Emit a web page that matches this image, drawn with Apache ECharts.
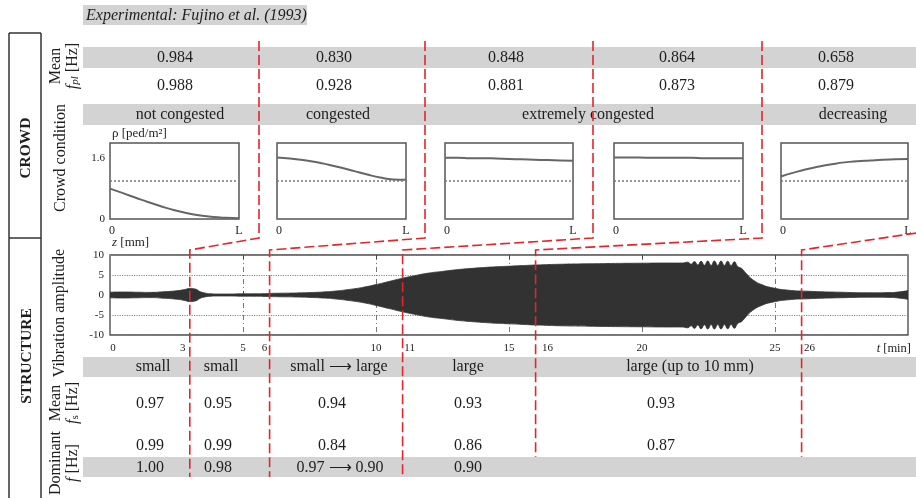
<!DOCTYPE html>
<html><head><meta charset="utf-8">
<script src="https://cdn.jsdelivr.net/npm/echarts@6/dist/echarts.min.js"></script>
<style>html,body{margin:0;padding:0;background:#fff}#c{width:916px;height:498px}</style>
</head><body><div id="c"></div>
<script>
// ---------------- DATA ----------------
const titleText = 'Experimental: Fujino et al. (1993)';
// CROWD
const crowdMeanRow1 = ['0.984', '0.830', '0.848', '0.864', '0.658'];
const crowdMeanRow2 = ['0.988', '0.928', '0.881', '0.873', '0.879'];
const crowdConditions = ['not congested', 'congested', 'extremely congested', 'decreasing'];
const densityZ = [0, 0.1, 0.2, 0.3, 0.4, 0.5, 0.6, 0.7, 0.8, 0.9, 1.0];
const density1 = [0.80, 0.68, 0.56, 0.44, 0.33, 0.23, 0.15, 0.09, 0.05, 0.03, 0.02];
const density2 = [1.62, 1.59, 1.55, 1.50, 1.43, 1.35, 1.26, 1.17, 1.09, 1.04, 1.03];
const density3 = [1.61, 1.61, 1.60, 1.60, 1.59, 1.58, 1.57, 1.56, 1.55, 1.54, 1.53];
const density4 = [1.62, 1.62, 1.62, 1.61, 1.61, 1.61, 1.61, 1.60, 1.60, 1.60, 1.60];
const density5 = [1.12, 1.22, 1.31, 1.38, 1.44, 1.49, 1.52, 1.54, 1.56, 1.57, 1.58];
const densityRef = 1.0;
const densityTickLabels = ['0', '1.6'];
// STRUCTURE
const sigTime = [0,0.5,1,1.5,2,2.5,2.8,3.0,3.2,3.4, 3.6,3.8,4.0,4.5,5.0,5.5,6.0,6.5,7.0,7.5,
  8.0,8.5,9.0,9.5,10.0,10.5,11.0,11.5,12.0,12.5, 13.0,13.5,14.0,14.5,15.0,15.5,16.0,17.0,18.0,19.0,
  20.0,21.0,21.5,21.72,21.85,21.97,22.1,22.22,22.35,22.47, 22.6,22.72,22.85,22.97,23.1,23.22,23.35,23.47,23.6,23.75,
  23.9,24.15,24.5,24.9,25.5,26.2,27.4,28.7,29.3,29.7, 30];
const sigAmp = [0.7,0.75,0.7,0.65,0.8,1.05,1.35,1.65,1.5,0.8, 0.45,0.3,0.25,0.25,0.3,0.3,0.4,0.45,0.5,0.6,
  0.75,1.0,1.4,1.9,2.6,3.4,4.2,4.9,5.5,5.9, 6.3,6.6,6.85,7.05,7.2,7.35,7.5,7.7,7.8,7.9,
  7.95,8.0,8.0,8.2,7.7,8.35,7.5,8.45,7.45,8.5, 7.4,8.5,7.4,8.5,7.4,8.45,7.35,8.3,7.1,6.6,
  5.5,3.9,2.6,1.8,1.2,0.95,0.7,0.55,0.6,0.8, 1.1];
const timeTickLabels = [0, 3, 5, 6, 10, 11, 15, 16, 20, 25, 26];
const gridTimes = [5, 10, 15, 20, 25];
const segmentTimes = [3, 6, 11, 16, 26];
const amplitudeLabels = ['small', 'small', 'small \u27F6 large', 'large', 'large (up to 10 mm)'];
const meanFs = ['0.97', '0.95', '0.94', '0.93', '0.93'];
const dominantRow1 = ['0.99', '0.99', '0.84', '0.86', '0.87'];
const dominantRow2 = ['1.00', '0.98', '0.97 \u27F6 0.90', '0.90'];

// ---------------- LAYOUT / STYLE ----------------
const SERIF = '"Liberation Serif","Times New Roman",serif';
const GRAY = '#d2d3d2', INK = '#1e1e1e', RED = '#e4262c', SIG = '#323232';
const miniLefts = [110, 277, 445, 614, 781];
const miniWidths = [129, 129, 128, 129, 127];
const densities = [density1, density2, density3, density4, density5];
const crowdRowX = [175, 334, 506, 677, 836];
const crowdCondX = [180, 338, 588, 853];
const ampLabelX = [153, 221, 339, 468, 690];
const structX = [150, 218, 332, 468, 661];
const dom2X = [150, 218, 340, 468];
const crowdBounds = [259, 425, 593, 762];
const labelShift = {0: 3, 3: -7, 6: -5, 11: 7, 16: 12, 26: 8};

const chart = echarts.init(document.getElementById('c'));

const grids = [], xAxes = [], yAxes = [], series = [];
miniLefts.forEach((l, i) => {
  grids.push({left: l, top: 143, width: miniWidths[i], height: 76, show: true,
    borderColor: '#555', borderWidth: 1.5, containLabel: false});
  xAxes.push({type: 'value', gridIndex: i, min: 0, max: 1, interval: 1,
    axisLine: {show: false}, axisTick: {show: false}, splitLine: {show: false},
    axisLabel: {formatter: v => v === 0 ? '{z|0}' : 'L', fontFamily: SERIF, fontSize: 12, color: INK, margin: 6,
      rich: {z: {fontFamily: SERIF, fontSize: 12, color: INK, padding: [0, 0, 0, 4]}}}});
  yAxes.push({type: 'value', gridIndex: i, min: 0, max: 2, interval: 0.4,
    axisLine: {show: false}, axisTick: {show: false}, splitLine: {show: false},
    axisLabel: {show: i === 0, fontFamily: SERIF, fontSize: 11, color: INK, margin: 5,
      formatter: v => densityTickLabels.find(s => Math.abs(parseFloat(s) - v) < 1e-6) || ''}});
  series.push({type: 'line', xAxisIndex: i, yAxisIndex: i, symbol: 'none', smooth: true,
    data: densityZ.map((z, k) => [z, densities[i][k]]),
    lineStyle: {color: '#666', width: 2},
    markLine: {silent: true, symbol: 'none', label: {show: false},
      lineStyle: {color: '#777', type: [2, 2], width: 1.5}, data: [{yAxis: densityRef}]}});
});
// main vibration grid
grids.push({left: 110, top: 255, width: 798, height: 80, show: true, borderColor: '#444', borderWidth: 1.3});
const rich = {};
Object.keys(labelShift).forEach(k => {
  const s = labelShift[k];
  rich['s' + k] = {fontFamily: SERIF, fontSize: 11, color: INK,
    padding: s > 0 ? [0, 0, 0, 2 * s] : [0, -2 * s, 0, 0]};
});
xAxes.push({type: 'value', gridIndex: 5, min: 0, max: 30, interval: 5,
  axisLine: {show: false},
  axisTick: {show: true, inside: true, length: 4, customValues: gridTimes, lineStyle: {color: '#444'}},
  splitLine: {show: true, lineStyle: {color: '#777', type: [5, 3, 1, 3], width: 1}},
  axisLabel: {customValues: timeTickLabels, fontFamily: SERIF, fontSize: 11, color: INK, margin: 8, rich: rich,
    formatter: v => labelShift[v] !== undefined ? '{s' + v + '|' + v + '}' : String(v)}});
xAxes.push({type: 'value', gridIndex: 5, position: 'top', min: 0, max: 30, interval: 5,
  axisLine: {show: false}, axisLabel: {show: false}, splitLine: {show: false},
  axisTick: {show: true, inside: true, length: 4, customValues: gridTimes, lineStyle: {color: '#444'}}});
yAxes.push({type: 'value', gridIndex: 5, min: -10, max: 10, interval: 5,
  axisLine: {show: false}, axisTick: {show: false},
  splitLine: {show: true, lineStyle: {color: '#888', type: 'dotted', width: 1.2}},
  axisLabel: {fontFamily: SERIF, fontSize: 11, color: INK, margin: 6}});
series.push({type: 'line', xAxisIndex: 5, yAxisIndex: 5, symbol: 'none', smooth: 0.55,
  data: sigTime.map((t, k) => [t, sigAmp[k]]),
  lineStyle: {color: SIG, width: 0.8}, areaStyle: {color: SIG, opacity: 1}});
series.push({type: 'line', xAxisIndex: 5, yAxisIndex: 5, symbol: 'none', smooth: 0.55,
  data: sigTime.map((t, k) => [t, -sigAmp[k]]),
  lineStyle: {color: SIG, width: 0.8}, areaStyle: {color: SIG, opacity: 1}});

chart.setOption({animation: false, textStyle: {fontFamily: SERIF},
  grid: grids, xAxis: xAxes, yAxis: yAxes, series: series});

// ---------------- GRAPHICS ----------------
const g = [];
const rect = (x, y, w, h) => g.push({type: 'rect', z: -10, shape: {x, y, width: w, height: h}, style: {fill: GRAY}});
const text = (x, y, t, o = {}) => g.push(Object.assign({type: 'text', z: 5, x, y,
  style: Object.assign({text: t, font: (o.font || '16px') + ' ' + SERIF, fill: INK,
    align: o.align || 'center', verticalAlign: 'middle'}, o.style || {})}, o.el || {}));
const line = (x1, y1, x2, y2) => g.push({type: 'line', z: 5, shape: {x1, y1, x2, y2},
  style: {stroke: '#333', lineWidth: 1.5}});

// title
rect(83, 5, 224, 20);
text(86, 15.5, titleText, {font: 'italic 16px', align: 'left'});
// frame
line(9, 33, 9, 498); line(41, 33, 41, 498); line(9, 33, 41, 33); line(9, 238, 41, 238);
text(26, 148, 'CROWD', {font: 'bold 15.5px', el: {rotation: Math.PI / 2}});
text(27, 356, 'STRUCTURE', {font: 'bold 15.5px', el: {rotation: Math.PI / 2}});
// row labels
const sub = {fontSize: 11, lineHeight: 11, verticalAlign: 'bottom', fontStyle: 'italic', fontFamily: SERIF, fill: INK};
const subUp = Object.assign({}, sub, {fontStyle: 'normal'});
const ital = {fontSize: 16, lineHeight: 17, fontStyle: 'italic', fontFamily: SERIF, fill: INK};
text(64, 66, 'Mean\n{i|f}{s|pl} [Hz]', {el: {rotation: Math.PI / 2},
  style: {lineHeight: 17, rich: {i: ital, s: sub}}});
text(61, 158, 'Crowd condition', {el: {rotation: Math.PI / 2}});
text(60, 313, 'Vibration amplitude', {el: {rotation: Math.PI / 2}});
text(64, 403, 'Mean\n{i|f}{s|s} [Hz]', {el: {rotation: Math.PI / 2},
  style: {lineHeight: 17, rich: {i: ital, s: subUp}}});
text(64, 463, 'Dominant\n{i|f} [Hz]', {el: {rotation: Math.PI / 2},
  style: {lineHeight: 17, rich: {i: ital}}});
// bands
rect(83, 47, 833, 21); rect(83, 104, 833, 21); rect(83, 357, 833, 20); rect(83, 457, 833, 20);
crowdMeanRow1.forEach((t, i) => text(crowdRowX[i], 58, t));
crowdMeanRow2.forEach((t, i) => text(crowdRowX[i], 85.5, t));
crowdConditions.forEach((t, i) => text(crowdCondX[i], 114.5, t));
amplitudeLabels.forEach((t, i) => text(ampLabelX[i], 367, t));
meanFs.forEach((t, i) => text(structX[i], 403.5, t));
dominantRow1.forEach((t, i) => text(structX[i], 445.5, t));
dominantRow2.forEach((t, i) => text(dom2X[i], 467.5, t));
// small axis titles
text(112, 134, '\u03C1 [ped/m\u00B2]', {font: '13px', align: 'left'});
text(112, 243, '{i|z} [mm]', {font: '13px', align: 'left',
  style: {rich: {i: {fontSize: 13, fontStyle: 'italic', fontFamily: SERIF, fill: INK}}}});
text(911, 349, '{i|t} [min]', {font: '12.5px', align: 'right',
  style: {rich: {i: {fontSize: 12.5, fontStyle: 'italic', fontFamily: SERIF, fill: INK}}}});
// red connectors
const dash = {stroke: RED, lineWidth: 1.6, lineDash: [10, 4], fill: null};
segmentTimes.forEach((t, i) => {
  const xb = chart.convertToPixel({xAxisIndex: 5}, t);
  const yEnd = i < 3 ? 477 : 457;
  let pts;
  if (i < 4) pts = [[crowdBounds[i], 41], [crowdBounds[i], 238], [xb, 250], [xb, yEnd]];
  else pts = [[930, 231], [xb, 250], [xb, yEnd]];
  g.push({type: 'polyline', z: 50, shape: {points: pts}, style: dash});
});
chart.setOption({graphic: g});
</script></body></html>
